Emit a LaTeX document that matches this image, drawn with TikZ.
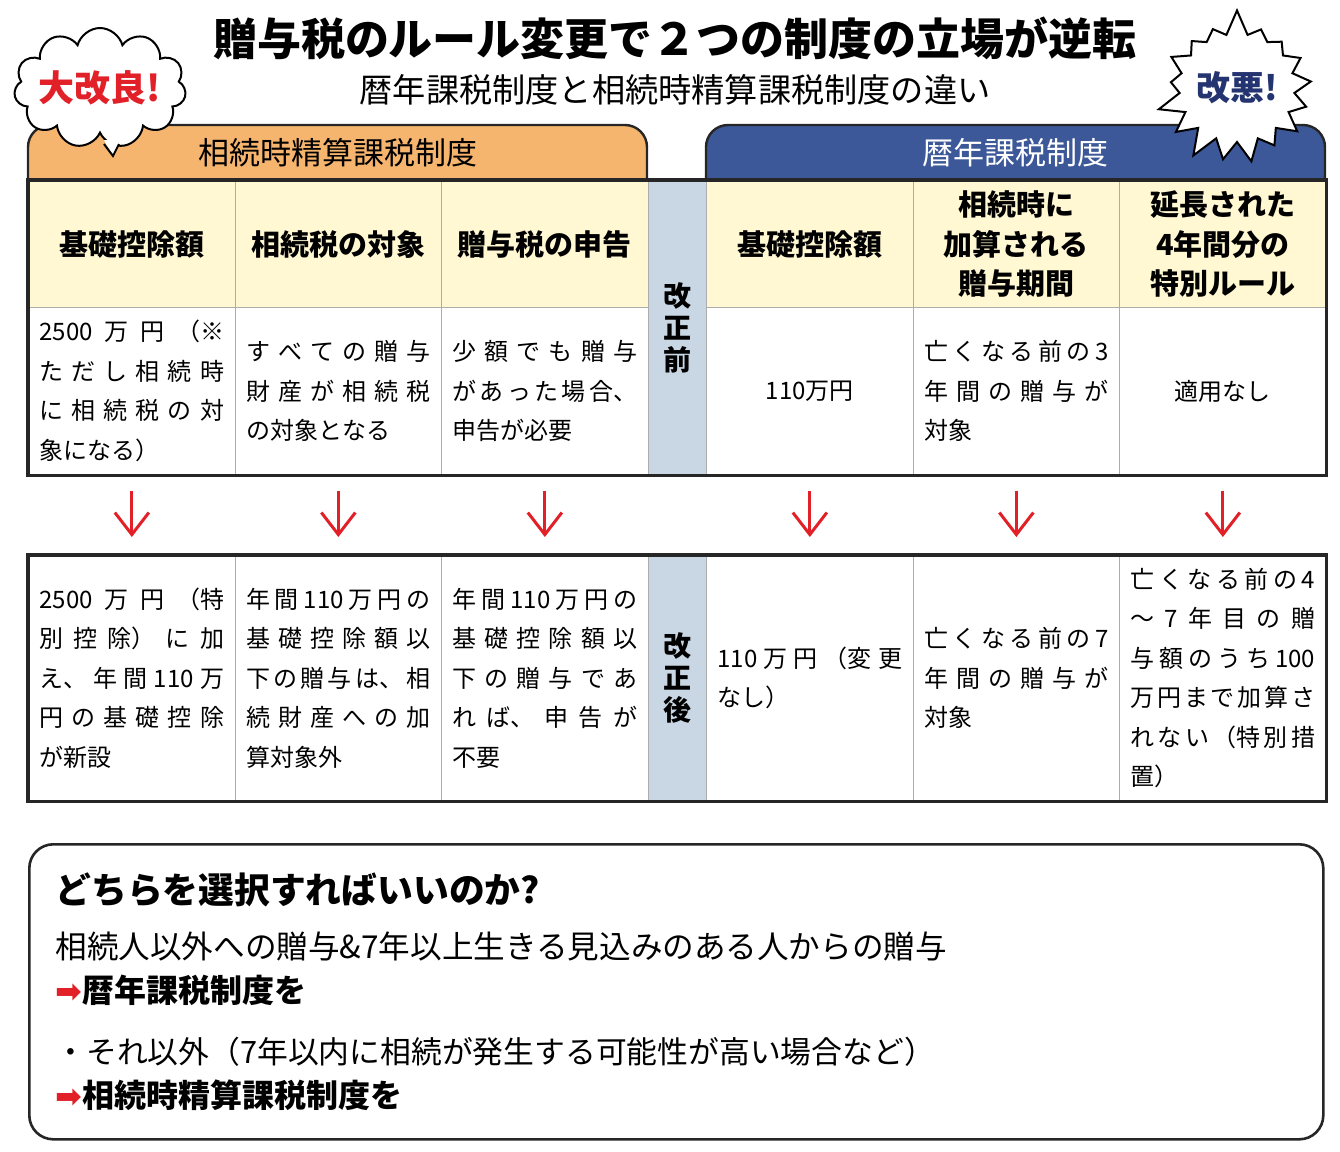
\documentclass[tikz,border=0pt]{standalone}
\usepackage{fontspec}
\setmainfont{Noto Sans CJK JP}
\newfontfamily\symfont{DejaVu Sans}
\usepackage{tikz}
\usetikzlibrary{positioning,shapes.symbols,arrows.meta}
\XeTeXlinebreaklocale "ja"
\XeTeXlinebreakskip=0pt plus 6pt
\tolerance=9999

\definecolor{taborange}{RGB}{246,181,110}
\definecolor{tabblue}{RGB}{60,88,152}
\definecolor{hdyellow}{RGB}{255,248,210}
\definecolor{midgray}{RGB}{200,215,227}
\definecolor{kred}{RGB}{226,32,40}
\definecolor{kblue}{RGB}{36,52,112}

\tikzset{
  nostretch/.style={execute at begin node={\XeTeXlinebreakskip=0pt\relax}},
  bodycell/.style={draw=gray!65, line width=.6pt, anchor=north west, inner xsep=5.5pt,
    inner ysep=0pt, text width=92.25pt, minimum height=#1,
    font=\fontsize{12}{19.75}\selectfont, align=justify},
  headcell/.style={bodycell=63.5pt, nostretch, fill=hdyellow, align=center,
    font=\bfseries\fontsize{14.5}{19.75}\selectfont},
  midcell/.style={draw=gray!65, fill=midgray, line width=.6pt, anchor=north west,
    inner sep=0pt, minimum width=29.25pt, minimum height=#1, align=center,
    font=\bfseries\fontsize{14}{16}\selectfont},
  tableframe/.style={line width=1.6pt, black!85},
  tabline/.style={line width=1.2pt, black!85, rounded corners=11pt},
  downarrow/.style={kred, line width=1.5pt,
    -{Straight Barb[length=11pt,width=17pt,line width=1.5pt]}},
  choiceline/.style={anchor=west, inner sep=0pt, font=\fontsize{15.4}{18}\selectfont},
}

\begin{document}
\begin{tikzpicture}[x=.5pt,y=-.5pt]
\useasboundingbox (0,0) rectangle (1340,1152);

% titles
\node (title) at (675,38) {\bfseries\fontsize{22}{26}\selectfont 贈与税のルール変更で２つの制度の立場が逆転};
\node (subtitle) at (675,90) {\fontsize{16.6}{20}\selectfont 暦年課税制度と相続時精算課税制度の違い};

% tabs
\draw[tabline, fill=taborange] (28,180) -- (28,125) -- (647,125) -- (647,180);
\node (ltab) at (338,153) {\fontsize{15.5}{18}\selectfont 相続時精算課税制度};
\draw[tabline, fill=tabblue] (706,180) -- (706,125) -- (1325,125) -- (1325,180);
\node (rtab) at (1015,153) {\color{white}\fontsize{15.5}{18}\selectfont 暦年課税制度};

% header row
\node (hd1) [headcell] at (28,180) {基礎控除額};
\node (hd2) [headcell] at (234.5,180) {相続税の対象};
\node (hd3) [headcell] at (441,180) {贈与税の申告};
\node (midpre) [midcell=147pt] at (647.5,180) {改\\正\\前};
\node (hd4) [headcell] at (706,180) {基礎控除額};
\node (hd5) [headcell] at (912.5,180) {相続時に\\加算される\\贈与期間};
\node (hd6) [headcell] at (1119,180) {延長された\\4年間分の\\特別ルール};

% before the change
\node (pre1) [bodycell=83.5pt] at (28,307) {2500万円（※\linebreak ただし相続時\linebreak に相続税の対\linebreak 象になる）};
\node (pre2) [bodycell=83.5pt] at (234.5,307) {すべての贈与\linebreak 財産が相続税\linebreak の対象となる};
\node (pre3) [bodycell=83.5pt] at (441,307) {少額でも贈与\linebreak があった場合、\linebreak 申告が必要};
\node (pre4) [bodycell=83.5pt, nostretch, align=center] at (706,307) {110万円};
\node (pre5) [bodycell=83.5pt] at (912.5,307) {亡くなる前の3\linebreak 年間の贈与が\linebreak 対象};
\node (pre6) [bodycell=83.5pt, nostretch, align=center] at (1119,307) {適用なし};
\draw[tableframe] (hd1.north west) rectangle (pre6.south east);

% after the change
\node (post1) [bodycell=122.5pt] at (28,555) {2500万円（特\linebreak 別控除）に加\linebreak え、年間110万\linebreak 円の基礎控除\linebreak が新設};
\node (post2) [bodycell=122.5pt] at (234.5,555) {年間110万円の\linebreak 基礎控除額以\linebreak 下の贈与は、相\linebreak 続財産への加\linebreak 算対象外};
\node (post3) [bodycell=122.5pt] at (441,555) {年間110万円の\linebreak 基礎控除額以\linebreak 下の贈与であ\linebreak れば、申告が\linebreak 不要};
\node (midpost) [midcell=122.5pt] at (647.5,555) {改\\正\\後};
\node (post4) [bodycell=122.5pt] at (706,555) {110万円（変更\linebreak なし）};
\node (post5) [bodycell=122.5pt] at (912.5,555) {亡くなる前の7\linebreak 年間の贈与が\linebreak 対象};
\node (post6) [bodycell=122.5pt] at (1119,555) {亡くなる前の4\linebreak ～7年目の贈\linebreak 与額のうち100\linebreak 万円まで加算さ\linebreak れない（特別措\linebreak 置）};
\draw[tableframe] (post1.north west) rectangle (post6.south east);

\foreach \c in {1,...,6}
  \draw[downarrow] ([yshift=-8pt]pre\c.south) -- ([yshift=9pt]post\c.north);

% speech bubbles
\node (kairyo) [cloud, cloud puffs=11, cloud ignores aspect, draw, fill=white, line width=1pt,
  minimum width=86pt, minimum height=60pt, inner sep=0pt] at (100,88) {};
\fill[white] (104,140) -- (113,156) -- (121,140) -- cycle;
\draw[line width=1pt] (104,144) -- (113,156) -- (119,144);
\node (kairyotext) at (kairyo.center) {\color{kred}\bfseries\fontsize{18}{20}\selectfont 大改良!};
\node (kaiaku) [starburst, starburst points=17, starburst point height=13pt,
  random starburst=7, draw, fill=white, line width=1pt,
  minimum width=80pt, minimum height=80pt, inner sep=0pt] at (1237,88)
  {\color{kblue}\bfseries\fontsize{17}{20}\selectfont 改悪!};

% which one to choose
\node (choicebox) [draw, line width=1.3pt, black!85, rounded corners=12pt, anchor=north west,
  minimum width=647pt, minimum height=147.5pt, inner sep=0pt] at (28,843) {};
\node (question) [choiceline, font=\bfseries\fontsize{17.9}{20}\selectfont] at (55,890) {どちらを選択すればいいのか?};
\node (caseA) [choiceline, font=\fontsize{15.8}{18}\selectfont] at (55,946) {相続人以外への贈与\&7年以上生きる見込みのある人からの贈与};
\node (pickA) [choiceline, font=\bfseries\fontsize{16}{18}\selectfont] at (55,990) {{\color{kred}\symfont ➡}暦年課税制度を};
\node (caseB) [choiceline] at (55,1052) {・それ以外（7年以内に相続が発生する可能性が高い場合など）};
\node (pickB) [choiceline, font=\bfseries\fontsize{16}{18}\selectfont] at (55,1095) {{\color{kred}\symfont ➡}相続時精算課税制度を};
\end{tikzpicture}
\end{document}
